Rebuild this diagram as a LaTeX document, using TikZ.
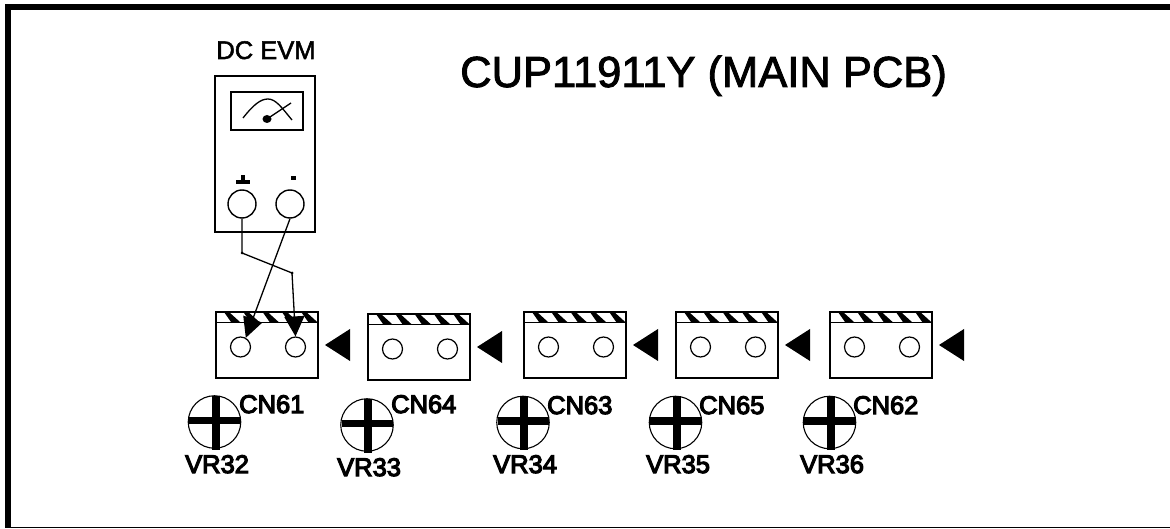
\documentclass[tikz,border=0pt]{standalone}
\usepackage{fontspec}
\setmainfont{Liberation Sans}
\newfontfamily\thick{Liberation Sans}[FakeBold=4.5]
\newfontfamily\semi{Liberation Sans}[FakeBold=2]
\tikzset{
 x=1pt,y=-1pt,
 outl/.style={draw=black,line width=1.8pt},
 hole/.style={circle,draw=black,line width=1.2pt,minimum size=20pt,inner sep=0pt},
 jack/.style={circle,draw=black,line width=1.4pt,minimum size=28pt,inner sep=0pt},
 vrc/.style={circle,draw=black,line width=1.1pt,minimum size=52.5pt,inner sep=0pt},
 lab/.style={inner sep=0pt,font=\thick\fontsize{25.5}{26}\selectfont,text=black},
 wire/.style={draw=black,line width=1.3pt},
 probe/.style={wire,-{Stealth[length=20pt,width=20pt,inset=0pt]}},
}
\usetikzlibrary{arrows.meta}
\newcommand{\cnblock}[5]{% id x y vrx vry
 \begin{scope}
  \clip (#2,#3) rectangle ++(102,10);
  \foreach \k in {0,...,5}{
   \fill[black] ({#2+8+\k*19.3},#3) -- ++(5,0) -- ++(11,10) -- ++(-9,0) -- cycle;
  }
 \end{scope}
 \draw[outl] (#2,#3) rectangle ++(102,66);
 \draw[outl] (#2,#3+10.5) -- ++(102,0);
 \node[hole] (h#1a) at (#2+24.5,#3+35) {};
 \node[hole] (h#1b) at (#2+79.5,#3+35) {};
 \fill[black] (#2+109,#3+33) -- (#2+134,#3+17) -- (#2+134,#3+49) -- cycle;
 \node[vrc] (vr#1) at (#4,#5) {};
 \fill[black] (#4-25.5,#5-5.5) rectangle (#4+26,#5+2);
 \fill[black] (#4-3,#5-26.5) rectangle (#4+5,#5+27.5);
}
\begin{document}
\begin{tikzpicture}
\useasboundingbox (0,0) rectangle (1170,529);
\fill[white] (0,0) rectangle (1170,529);
\fill[black] (5,4) rectangle (1170,10);
\fill[black] (5,4) rectangle (11,528);
\fill[black] (5,526.8) rectangle (1170,528);
\node[lab,anchor=base west,font=\semi\fontsize{43.5}{44}\selectfont] (title) at (460,87) {CUP11911Y (MAIN PCB)};
\node[lab,anchor=base,font=\semi\fontsize{25.5}{26}\selectfont] (dc) at (266,59) {DC EVM};
% meter
\node[draw=black,line width=1.5pt,minimum width=100pt,minimum height=156pt,inner sep=0pt] (meter) at (265,154) {};
\node[draw=black,line width=1.5pt,minimum width=72pt,minimum height=38pt,inner sep=0pt] (dial) at (267,111) {};
\draw[black,line width=1.3pt] (243,118) .. controls (254,104) and (261,99) .. (268,99) .. controls (276,99) and (282,108) .. (292,120);
\draw[black,line width=1.3pt] (267,119) -- (291,103);
\fill[black] (267,119) ellipse (4.5 and 4);
\fill[black] (236,180) rectangle (250,184);
\fill[black] (241,175) rectangle (245,184);
\fill[black] (291,176) rectangle (296,180);
\node[jack] (jp) at (242,204) {};
\node[jack] (jm) at (290,204) {};
% connectors
\cnblock{1}{216}{312}{214.5}{422}
\cnblock{2}{368}{314}{367}{425}
\cnblock{3}{524}{312}{523}{422.5}
\cnblock{4}{676}{312}{675.5}{422.5}
\cnblock{5}{830}{312}{829.5}{422.5}
% labels
\foreach \n/\x/\y in {CN61/239/413,CN64/391/413,CN63/547/414,CN65/699/414,CN62/853/414}
 \node[lab,anchor=base west] at (\x,\y) {\n};
\foreach \n/\x/\y in {VR32/185/473,VR33/337/476,VR34/493/473,VR35/646/473,VR36/800/473}
 \node[lab,anchor=base west] at (\x,\y) {\n};
% wires
\coordinate (k1) at (242,253);
\coordinate (k2) at (292,273);
\draw[wire] (jp.south) -- (k1) -- (k2);
\fill[black] (k1) circle (1.5);
\fill[black] (k2) circle (1.5);
\draw[probe] (k2) -- (h1b.north);
\draw[probe] (jm.south) -- (h1a.60);
\end{tikzpicture}
\end{document}
